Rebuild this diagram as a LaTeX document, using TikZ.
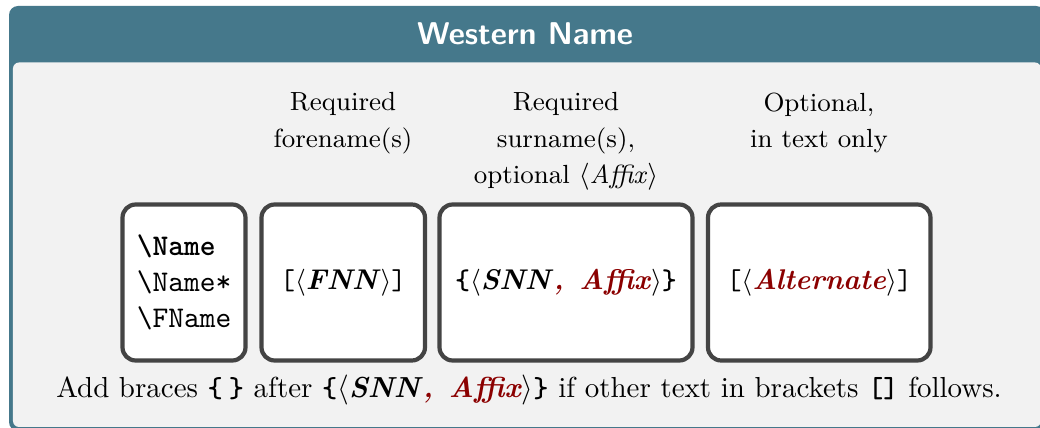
\documentclass[tikz,border=0pt]{standalone}
\usepackage{fontspec}
\definecolor{frameteal}{HTML}{45788B}
\definecolor{bodygray}{HTML}{F2F2F2}
\definecolor{boxborder}{HTML}{444444}
\definecolor{affixred}{HTML}{8B0000}
\newcommand{\bi}[1]{\textbf{\textit{#1}}}
\newcommand{\ttb}[1]{\texttt{\textbf{#1}}}
\tikzset{
  stepbox/.style={draw=boxborder, line width=1.4pt, fill=white, rounded corners=4.4pt,
    minimum height=52pt, inner sep=0pt, font=\fontsize{9.5pt}{12pt}\selectfont},
  headlabel/.style={anchor=north, align=center, inner sep=0pt,
    font=\fontsize{8.75pt}{12.17pt}\selectfont},
}
\begin{document}
\begin{tikzpicture}[x=0.33333pt,y=-0.33333pt]
\useasboundingbox (0,0) rectangle (1040,428);
% frame
\fill[frameteal, rounded corners=3pt] (9,6) rectangle (1045,431);
\fill[bodygray, rounded corners=2pt] (13,62.5) rectangle (1041,427);
\node[text=white, font=\sffamily\bfseries\fontsize{10.5pt}{12pt}\selectfont, inner sep=0pt] (title) at (525,34) {Western Name};
% header labels
\node[headlabel] (lfore) at (343,92) {Required\\forename(s)};
\node[headlabel] (lsur) at (566,92) {Required\\surname(s),\\optional $\langle$\textit{Affix}$\rangle$};
\node[headlabel] (lopt) at (819,92) {Optional,\\in text only};
% boxes
\node[stepbox, minimum width=41pt, align=left, font=\ttfamily\fontsize{10pt}{12pt}\selectfont] (cmd) at (184,282.5)
  {\textbf{\textbackslash Name}\\\textbackslash Name*\\\textbackslash FName};
\node[stepbox, minimum width=54.5pt] (fnn) at (343.25,282.5)
  {\texttt{[}$\langle$\bi{FNN}$\rangle$\texttt{]}};
\node[stepbox, minimum width=84.33pt] (snn) at (566,282.5)
  {\ttb{\{}$\langle$\bi{SNN}\textcolor{affixred}{\bi{,\hspace{0.55em}Affix}}$\rangle$\ttb{\}}};
\node[stepbox, minimum width=74.17pt] (alt) at (819.25,282.5)
  {\texttt{[}$\langle$\textcolor{affixred}{\bi{Alternate}}$\rangle$\texttt{]}};
% bottom note
\node[anchor=base, inner sep=0pt, font=\fontsize{9.65pt}{12pt}\selectfont] (note) at (529,398)
  {Add braces \ttb{\{}\hspace{2pt}\ttb{\}} after \ttb{\{}$\langle$\bi{SNN}\textcolor{affixred}{\bi{,\hspace{0.55em}Affix}}$\rangle$\ttb{\}} if other text in brackets \ttb{[]} follows.};
\end{tikzpicture}
\end{document}
